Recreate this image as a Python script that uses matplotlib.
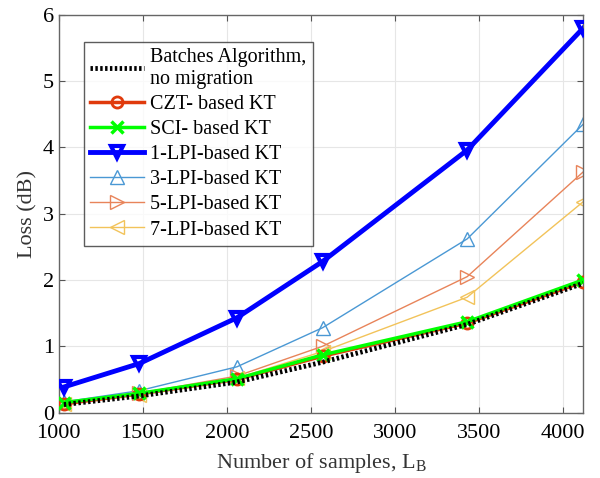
import matplotlib
matplotlib.use("Agg")
import matplotlib.pyplot as plt

plt.rcParams['font.family'] = ['Liberation Serif', 'DejaVu Serif']
plt.rcParams['mathtext.fontset'] = 'custom'
plt.rcParams['mathtext.rm'] = 'Liberation Serif'

# samples L_B and loss values (dB)
samples = [1030, 1480, 2060, 2570, 3430, 4120]
batches = [0.12, 0.25, 0.46, 0.76, 1.33, 1.95]
czt = [0.13, 0.28, 0.50, 0.85, 1.35, 1.97]
sci = [0.15, 0.29, 0.51, 0.87, 1.37, 2.00]
lpi1 = [0.385, 0.74, 1.43, 2.28, 3.96, 5.80]
lpi3 = [0.16, 0.33, 0.69, 1.28, 2.62, 4.35]
lpi5 = [0.14, 0.29, 0.55, 1.00, 2.05, 3.63]
lpi7 = [0.13, 0.27, 0.52, 0.92, 1.74, 3.18]

fig = plt.figure(figsize=(6, 4.78), dpi=100)
ax = fig.add_axes([0.098, 0.137, 0.874, 0.832])

ax.plot(samples, batches, color='black', ls=(0, (0.5, 0.5)), lw=3.5,
        label='Batches Algorithm,\nno migration', zorder=5)
ax.plot(samples, czt, color='#e03a0c', lw=2.5, marker='o', ms=8,
        mfc='none', mew=2, label='CZT- based KT', zorder=3)
ax.plot(samples, sci, color='#00ff00', lw=2.5, marker='x', ms=9,
        mew=2.5, label='SCI- based KT', zorder=4)
ax.plot(samples, lpi1, color='#0000ff', lw=3.5, marker='v', ms=9,
        mfc='none', mew=3, label='1-LPI-based KT', zorder=6)
ax.plot(samples, lpi3, color='#4a98d4', lw=1, marker='^', ms=10,
        mfc='none', mew=1, label='3-LPI-based KT')
ax.plot(samples, lpi5, color='#e8845a', lw=1, marker='>', ms=10,
        mfc='none', mew=1, label='5-LPI-based KT')
ax.plot(samples, lpi7, color='#f2c35a', lw=1, marker='<', ms=10,
        mfc='none', mew=1, label='7-LPI-based KT')

ax.set_xlim(1000, 4120)
ax.set_ylim(0, 6)
ax.set_xticks([1000, 1500, 2000, 2500, 3000, 3500, 4000])
ax.set_yticks([0, 1, 2, 3, 4, 5, 6])
ax.grid(True, color='#e6e6e6', lw=0.8)
ax.set_axisbelow(True)
ax.tick_params(direction='in', top=True, right=True, labelsize=16,
               color='#555555', length=4)
ax.tick_params(axis='x', pad=8)
for s in ax.spines.values():
    s.set_color('#666666')
    s.set_linewidth(1)

ax.set_xlabel(r'Number of samples, $\mathregular{L_B}$', fontsize=16,
              color='#333333', labelpad=6)
ax.set_ylabel('Loss (dB)', fontsize=16, color='#333333')

leg = ax.legend(loc='upper left', bbox_to_anchor=(0.048, 0.932), fontsize=14.5,
                frameon=True, fancybox=False, edgecolor='#333333',
                handlelength=2.7, borderpad=0.3, labelspacing=0.3,
                handletextpad=0.3, borderaxespad=0)
leg.get_frame().set_linewidth(1)

fig.savefig('out.png', dpi=100)
